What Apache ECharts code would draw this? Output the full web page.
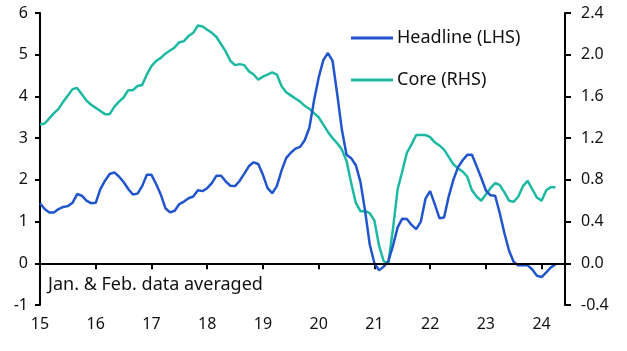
<!DOCTYPE html>
<html><head><meta charset="utf-8">
<script src="https://cdn.jsdelivr.net/npm/echarts@6/dist/echarts.min.js"></script>
<style>html,body{margin:0;padding:0;background:#fff}#c{width:627px;height:351px}</style>
</head><body><div id="c"></div>
<script>
// Monthly data starting Jan 2015
const startYear = 15;
const headline = [1.44,1.3,1.22,1.22,1.3,1.35,1.37,1.45,1.66,1.62,1.5,1.44,
1.45,1.78,1.98,2.14,2.18,2.08,1.95,1.78,1.65,1.67,1.85,2.12,
2.12,1.9,1.65,1.32,1.22,1.26,1.42,1.48,1.56,1.6,1.75,1.73,
1.8,1.92,2.1,2.1,1.96,1.86,1.85,1.98,2.15,2.33,2.42,2.38,
2.12,1.8,1.68,1.85,2.22,2.52,2.65,2.75,2.79,2.95,3.25,3.9,
4.45,4.87,5.04,4.85,4.05,3.2,2.6,2.52,2.35,1.95,1.25,0.45,
0.0,-0.17,-0.08,0.05,0.42,0.86,1.07,1.06,0.92,0.82,1.0,1.55,
1.73,1.42,1.08,1.1,1.6,2.0,2.3,2.47,2.6,2.6,2.33,2.05,
1.75,1.63,1.62,1.2,0.72,0.3,0.03,-0.05,-0.05,-0.05,-0.15,-0.3,
-0.33,-0.22,-0.1,-0.02];
const core = [1.33,1.34,1.39,1.44,1.48,1.55,1.61,1.67,1.68,1.62,1.56,1.52,
1.49,1.46,1.43,1.43,1.5,1.55,1.59,1.66,1.66,1.70,1.71,1.81,
1.89,1.94,1.97,2.01,2.04,2.07,2.12,2.13,2.18,2.21,2.28,2.27,
2.24,2.21,2.17,2.1,2.03,1.94,1.9,1.91,1.9,1.84,1.81,1.76,
1.79,1.81,1.83,1.81,1.7,1.64,1.61,1.58,1.55,1.51,1.48,1.44,
1.4,1.33,1.26,1.2,1.15,1.09,0.98,0.77,0.58,0.5,0.5,0.48,
0.41,0.17,0.02,0.0,0.33,0.71,0.88,1.06,1.14,1.23,1.23,1.23,
1.21,1.16,1.13,1.09,1.02,0.95,0.91,0.88,0.83,0.7,0.64,0.6,
0.66,0.72,0.77,0.75,0.68,0.6,0.59,0.64,0.74,0.79,0.71,0.63,
0.6,0.7,0.73,0.73];
const xTicks = [15,16,17,18,19,20,21,22,23,24];
const leftTicks = [-1,0,1,2,3,4,5,6];
const rightTicks = [-0.4,0,0.4,0.8,1.2,1.6,2.0,2.4];

const toPairs = arr => arr.map((v,i)=>[startYear + i/12, v]);
const FONT = 'Noto Sans';
const chart = echarts.init(document.getElementById('c'));
chart.setOption({
  animation:false,
  textStyle:{fontFamily:FONT},
  grid:{left:40,right:62,top:13,bottom:46,containLabel:false},
  legend:{
    orient:'vertical', left:346, top:24, itemGap:24,
    icon:'rect', itemWidth:42, itemHeight:3,
    textStyle:{fontFamily:FONT,fontSize:18,color:'#111',padding:[0,0,0,-1]},
    data:['Headline (LHS)','Core (RHS)']
  },
  xAxis:{type:'value',min:15,max:24.42,interval:1,
    axisLine:{lineStyle:{color:'#000',width:2}},
    axisTick:{show:true,length:6,lineStyle:{color:'#000',width:2}},
    axisLabel:{fontSize:16,color:'#111',margin:11,
      formatter:v=> xTicks.includes(v)? String(v):''},
    splitLine:{show:false}},
  yAxis:[
    {type:'value',min:leftTicks[0],max:leftTicks[leftTicks.length-1],interval:1,position:'left',
     axisLine:{show:true,lineStyle:{color:'#000',width:2}},
     axisTick:{show:true,length:5,lineStyle:{color:'#000',width:2}},
     axisLabel:{fontSize:16,color:'#111',margin:12},
     splitLine:{show:false}},
    {type:'value',min:rightTicks[0],max:rightTicks[rightTicks.length-1],interval:0.4,position:'right',
     axisLine:{show:true,lineStyle:{color:'#000',width:2}},
     axisTick:{show:true,length:6,lineStyle:{color:'#000',width:2}},
     axisLabel:{fontSize:16,color:'#111',margin:16,formatter:v=>v.toFixed(1)},
     splitLine:{show:false}}
  ],
  graphic:[{type:'text',left:48,top:276,style:{text:'Jan. & Feb. data averaged',fontFamily:FONT,fontSize:18,fill:'#111'}}],
  series:[
    {name:'Core (RHS)',type:'line',yAxisIndex:1,data:toPairs(core),symbol:'none',
     lineStyle:{color:'#1DB9A2',width:2.5},itemStyle:{color:'#1DB9A2'},z:2},
    {name:'Headline (LHS)',type:'line',yAxisIndex:0,data:toPairs(headline),symbol:'none',
     lineStyle:{color:'#2155CD',width:2.5},itemStyle:{color:'#2155CD'},z:3,
     markLine:{silent:true,symbol:'none',label:{show:false},
       lineStyle:{color:'#000',width:2,type:'solid'},data:[{yAxis:0}]}}
  ]
});
</script></body></html>
